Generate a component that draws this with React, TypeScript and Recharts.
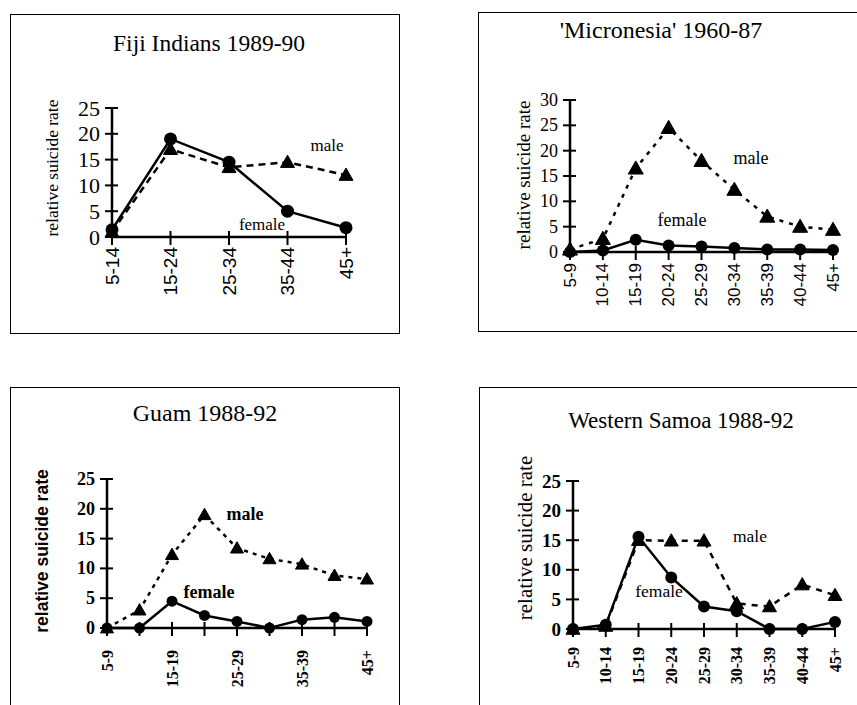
import React from 'react';
import { LineChart, Line, XAxis, YAxis } from 'recharts';

// ---------- data ----------
const fijiAges = ['5-14', '15-24', '25-34', '35-44', '45+'];
const fijiMale = [1, 17, 13.5, 14.5, 12];
const fijiFemale = [1.4, 19, 14.5, 5, 1.8];
const fijiYTicks = [0, 5, 10, 15, 20, 25];

const micronesiaAges = ['5-9', '10-14', '15-19', '20-24', '25-29', '30-34', '35-39', '40-44', '45+'];
const micronesiaMale = [0.5, 2.6, 16.5, 24.5, 18, 12.3, 7, 5, 4.4];
const micronesiaFemale = [0, 0.3, 2.4, 1.3, 1.1, 0.8, 0.5, 0.5, 0.4];
const micronesiaYTicks = [0, 5, 10, 15, 20, 25, 30];

const guamAges = ['5-9', '10-14', '15-19', '20-24', '25-29', '30-34', '35-39', '40-44', '45+'];
const guamTickLabels = ['5-9', '', '15-19', '', '25-29', '', '35-39', '', '45+'];
const guamMale = [0, 3, 12.3, 19, 13.4, 11.6, 10.7, 8.8, 8.2];
const guamFemale = [0, 0, 4.5, 2.1, 1.1, 0, 1.4, 1.8, 1.1];
const guamYTicks = [0, 5, 10, 15, 20, 25];

const samoaAges = ['5-9', '10-14', '15-19', '20-24', '25-29', '30-34', '35-39', '40-44', '45+'];
const samoaMale = [0, 0.5, 15, 14.9, 14.9, 4.3, 3.8, 7.5, 5.7];
const samoaFemale = [0, 0.7, 15.6, 8.7, 3.8, 3.0, 0, 0, 1.2];
const samoaYTicks = [0, 5, 10, 15, 20, 25];

const yLabelText = 'relative suicide rate';
const maleText = 'male';
const femaleText = 'female';

const buildRows = (ages: string[], male: number[], female: number[]) =>
  ages.map((age, i) => ({ age, male: male[i], female: female[i] }));

// ---------- styling ----------
const SERIF = '"Liberation Serif", "Times New Roman", serif';
const SANS = '"Liberation Sans", Arial, sans-serif';

type TextStyle = { size: number; family: string; weight?: string };

type Panel = {
  title: string;
  rows: { age: string; male: number; female: number }[];
  xLabels: string[];
  yTicks: number[];
  box: { x: number; y: number; w: number; h: number };
  margin: { top: number; right: number; bottom: number; left: number };
  titlePos: { x: number; y: number; size: number };
  yLabel: { x: number; y: number; style: TextStyle };
  malePos: { x: number; y: number };
  femalePos: { x: number; y: number };
  annot: TextStyle;
  yTickStyle: TextStyle;
  xTickStyle: TextStyle;
  xGap: number;
  triSize: number;
  circleR: number;
  dash: string;
};

const panels: Panel[] = [
  {
    title: 'Fiji Indians 1989-90',
    rows: buildRows(fijiAges, fijiMale, fijiFemale),
    xLabels: fijiAges,
    yTicks: fijiYTicks,
    box: { x: 10, y: 14, w: 390, h: 320 },
    margin: { top: 94, right: 54, bottom: 37, left: 42 },
    titlePos: { x: 209, y: 44, size: 23.5 },
    yLabel: { x: 53, y: 168, style: { size: 17.5, family: SERIF } },
    malePos: { x: 327, y: 145 },
    femalePos: { x: 262, y: 224 },
    annot: { size: 17, family: SERIF },
    yTickStyle: { size: 22, family: SERIF },
    xTickStyle: { size: 19, family: SANS },
    xGap: 10,
    triSize: 7,
    circleR: 6.5,
    dash: '7 5',
  },
  {
    title: "'Micronesia' 1960-87",
    rows: buildRows(micronesiaAges, micronesiaMale, micronesiaFemale),
    xLabels: micronesiaAges,
    yTicks: micronesiaYTicks,
    box: { x: 478, y: 12, w: 390, h: 320 },
    margin: { top: 88, right: 35, bottom: 20, left: 32 },
    titlePos: { x: 661, y: 30, size: 24 },
    yLabel: { x: 523, y: 175, style: { size: 19, family: SERIF } },
    malePos: { x: 751, y: 158 },
    femalePos: { x: 682, y: 220 },
    annot: { size: 18, family: SERIF },
    yTickStyle: { size: 18, family: SERIF },
    xTickStyle: { size: 17, family: SANS },
    xGap: 11,
    triSize: 7.5,
    circleR: 6,
    dash: '4 6',
  },
  {
    title: 'Guam 1988-92',
    rows: buildRows(guamAges, guamMale, guamFemale),
    xLabels: guamTickLabels,
    yTicks: guamYTicks,
    box: { x: 10, y: 387, w: 390, h: 330 },
    margin: { top: 92, right: 33, bottom: 29, left: 37 },
    titlePos: { x: 205, y: 413, size: 24 },
    yLabel: { x: 43, y: 551, style: { size: 17.5, family: SANS, weight: 'bold' } },
    malePos: { x: 245, y: 514 },
    femalePos: { x: 209, y: 592 },
    annot: { size: 18, family: SERIF, weight: 'bold' },
    yTickStyle: { size: 18, family: SERIF, weight: 'bold' },
    xTickStyle: { size: 16, family: SERIF, weight: 'bold' },
    xGap: 22,
    triSize: 6.5,
    circleR: 5.5,
    dash: '4 5',
  },
  {
    title: 'Western Samoa 1988-92',
    rows: buildRows(samoaAges, samoaMale, samoaFemale),
    xLabels: samoaAges,
    yTicks: samoaYTicks,
    box: { x: 479, y: 387, w: 390, h: 330 },
    margin: { top: 94, right: 34, bottom: 28, left: 34 },
    titlePos: { x: 681, y: 420, size: 23 },
    yLabel: { x: 525, y: 538, style: { size: 21, family: SERIF } },
    malePos: { x: 750, y: 537 },
    femalePos: { x: 659, y: 592 },
    annot: { size: 17.5, family: SERIF },
    yTickStyle: { size: 19, family: SERIF, weight: 'bold' },
    xTickStyle: { size: 16, family: SERIF, weight: 'bold' },
    xGap: 18,
    triSize: 7,
    circleR: 6,
    dash: '6 6',
  },
];

const Y_AXIS_W = 60;
const X_AXIS_H = 60;

const makeYTick = (st: TextStyle) => (props: any) => {
  const { x, y, payload } = props;
  return (
    <g>
      <line x1={x - 7} x2={x + 6} y1={y} y2={y} stroke="#000" strokeWidth={2} />
      <text
        x={x - 12}
        y={y}
        textAnchor="end"
        dominantBaseline="central"
        fontSize={st.size}
        fontFamily={st.family}
        fontWeight={st.weight || 'normal'}
        fill="#000"
      >
        {payload.value}
      </text>
    </g>
  );
};

const makeXTick = (labels: string[], st: TextStyle, gap: number) => (props: any) => {
  const { x, y, index } = props;
  const label = labels[index];
  return (
    <g>
      <line x1={x} x2={x} y1={y - 6} y2={y + 8} stroke="#000" strokeWidth={2} />
      {label ? (
        <text
          transform={`translate(${x},${y + gap}) rotate(-90)`}
          textAnchor="end"
          dominantBaseline="central"
          fontSize={st.size}
          fontFamily={st.family}
          fontWeight={st.weight || 'normal'}
          fill="#000"
        >
          {label}
        </text>
      ) : null}
    </g>
  );
};

const makeTriangle = (s: number) => (props: any) => {
  const { cx, cy, index } = props;
  if (cx == null || cy == null) return <g key={`t-${index}`} />;
  const pts = `${cx},${cy - s} ${cx - s},${cy + s * 0.75} ${cx + s},${cy + s * 0.75}`;
  return <polygon key={`t-${index}`} points={pts} fill="#000" stroke="#000" strokeWidth={1} />;
};

const abs = (x: number, y: number, extra: React.CSSProperties): React.CSSProperties => ({
  position: 'absolute',
  left: x,
  top: y,
  transform: 'translate(-50%, -50%)',
  whiteSpace: 'nowrap',
  lineHeight: 1,
  color: '#000',
  ...extra,
});

function PanelView({ p }: { p: Panel }) {
  return (
    <>
      <div
        style={{
          position: 'absolute',
          left: p.box.x,
          top: p.box.y,
          width: p.box.w,
          height: p.box.h,
          border: '1.5px solid #000',
          boxSizing: 'border-box',
        }}
      />
      <div style={{ position: 'absolute', left: p.box.x, top: p.box.y }}>
        <LineChart width={p.box.w} height={p.box.h} data={p.rows} margin={p.margin}>
          <XAxis
            dataKey="age"
            type="category"
            scale="point"
            padding={{ left: 0, right: 0 }}
            interval={0}
            height={X_AXIS_H}
            tickSize={0}
            tickMargin={0}
            tickLine={false}
            axisLine={{ stroke: '#000', strokeWidth: 2.5 }}
            tick={makeXTick(p.xLabels, p.xTickStyle, p.xGap)}
          />
          <YAxis
            type="number"
            domain={[p.yTicks[0], p.yTicks[p.yTicks.length - 1]]}
            ticks={p.yTicks}
            interval={0}
            width={Y_AXIS_W}
            tickSize={0}
            tickMargin={0}
            tickLine={false}
            axisLine={{ stroke: '#000', strokeWidth: 2.5 }}
            tick={makeYTick(p.yTickStyle)}
          />
          <Line
            dataKey="male"
            stroke="#000"
            strokeWidth={2.5}
            strokeDasharray={p.dash}
            dot={makeTriangle(p.triSize)}
            isAnimationActive={false}
          />
          <Line
            dataKey="female"
            stroke="#000"
            strokeWidth={2.5}
            dot={{ r: p.circleR, fill: '#000', stroke: '#000', strokeWidth: 0 }}
            isAnimationActive={false}
          />
        </LineChart>
      </div>
      <div style={abs(p.titlePos.x, p.titlePos.y, { fontFamily: SERIF, fontSize: p.titlePos.size })}>
        {p.title}
      </div>
      <div
        style={{
          ...abs(p.yLabel.x, p.yLabel.y, {
            fontFamily: p.yLabel.style.family,
            fontSize: p.yLabel.style.size,
            fontWeight: p.yLabel.style.weight || 'normal',
          }),
          transform: 'translate(-50%, -50%) rotate(-90deg)',
        }}
      >
        {yLabelText}
      </div>
      <div
        style={abs(p.malePos.x, p.malePos.y, {
          fontFamily: p.annot.family,
          fontSize: p.annot.size,
          fontWeight: p.annot.weight || 'normal',
        })}
      >
        {maleText}
      </div>
      <div
        style={abs(p.femalePos.x, p.femalePos.y, {
          fontFamily: p.annot.family,
          fontSize: p.annot.size,
          fontWeight: p.annot.weight || 'normal',
        })}
      >
        {femaleText}
      </div>
    </>
  );
}

export default function App() {
  return (
    <div
      style={{
        position: 'absolute',
        left: 0,
        top: 0,
        width: 857,
        height: 705,
        overflow: 'hidden',
        background: '#fff',
      }}
    >
      {panels.map((p) => (
        <PanelView key={p.title} p={p} />
      ))}
    </div>
  );
}
